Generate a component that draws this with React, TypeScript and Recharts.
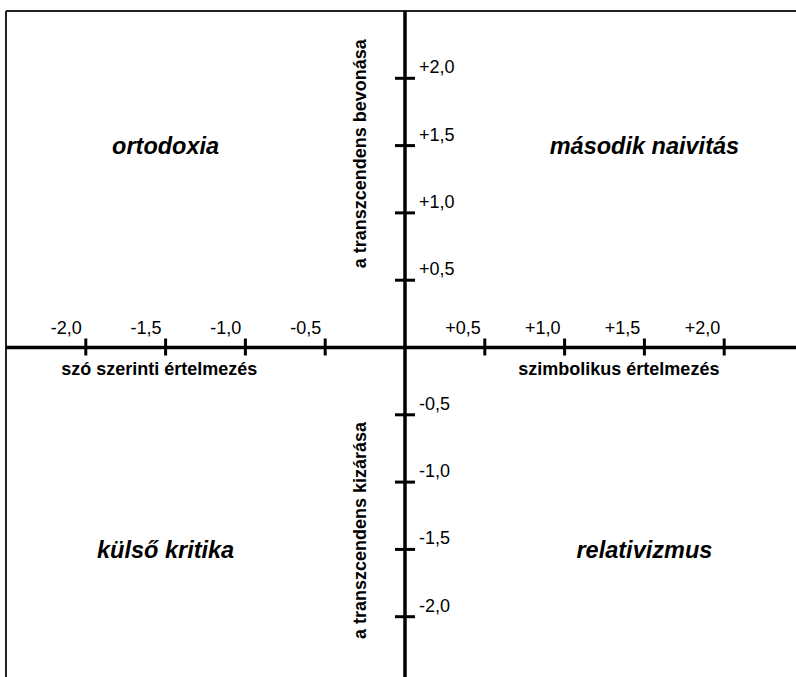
import {
  ScatterChart,
  Scatter,
  XAxis,
  YAxis,
  ReferenceLine,
} from 'recharts';

// tick values and their printed labels (Hungarian decimal comma)
const xTickValues = [-2, -1.5, -1, -0.5, 0.5, 1, 1.5, 2];
const xTickLabels = ['-2,0', '-1,5', '-1,0', '-0,5', '+0,5', '+1,0', '+1,5', '+2,0'];
const yTickValues = [2, 1.5, 1, 0.5, -0.5, -1, -1.5, -2];
const yTickLabels = ['+2,0', '+1,5', '+1,0', '+0,5', '-0,5', '-1,0', '-1,5', '-2,0'];

// quadrant names
const quadrantNames = ['ortodoxia', 'második naivitás', 'külső kritika', 'relativizmus'];
const quadrantX = [-1.5, 1.5, -1.5, 1.5];
const quadrantY = [1.5, 1.5, -1.5, -1.5];

// axis titles
const xTitles = ['szó szerinti értelmezés', 'szimbolikus értelmezés'];
const xTitleAt = [-1.54, 1.34];
const yTitles = ['a transzcendens bevonása', 'a transzcendens kizárása'];
const yTitleAt = [1.44, -1.36];

const FONT = '"Liberation Sans", Arial, sans-serif';

const xTickData = xTickValues.map((v, i) => ({ x: v, y: 0, label: xTickLabels[i] }));
const yTickData = yTickValues.map((v, i) => ({ x: 0, y: v, label: yTickLabels[i] }));
const quadrantData = quadrantNames.map((n, i) => ({ x: quadrantX[i], y: quadrantY[i], label: n }));
const xTitleData = xTitles.map((t, i) => ({ x: xTitleAt[i], y: 0, label: t }));
const yTitleData = yTitles.map((t, i) => ({ x: 0, y: yTitleAt[i], label: t }));

const XTick = ({ cx, cy, payload }: any) => (
  <g>
    <line x1={cx} x2={cx} y1={cy - 9} y2={cy + 8} stroke="#000" strokeWidth={3} />
    <text x={cx - 4} y={cy - 14} textAnchor="end" fontSize={18} fontFamily={FONT} fill="#000">
      {payload.label}
    </text>
  </g>
);

const YTick = ({ cx, cy, payload }: any) => (
  <g>
    <line x1={cx - 10} x2={cx + 10} y1={cy} y2={cy} stroke="#000" strokeWidth={3} />
    <text x={cx + 14} y={cy - 5} textAnchor="start" fontSize={18} fontFamily={FONT} fill="#000">
      {payload.label}
    </text>
  </g>
);

const QuadrantLabel = ({ cx, cy, payload }: any) => (
  <text
    x={cx}
    y={cy}
    dy="0.35em"
    textAnchor="middle"
    fontSize={23.5}
    fontWeight="bold"
    fontStyle="italic"
    fontFamily={FONT}
    fill="#000"
  >
    {payload.label}
  </text>
);

const XTitle = ({ cx, cy, payload }: any) => (
  <text x={cx} y={cy + 27} textAnchor="middle" fontSize={18} fontWeight="bold" fontFamily={FONT} fill="#000">
    {payload.label}
  </text>
);

const YTitle = ({ cx, cy, payload }: any) => {
  const px = cx - 39;
  return (
    <text
      x={px}
      y={cy}
      transform={`rotate(-90 ${px} ${cy})`}
      textAnchor="middle"
      fontSize={18}
      fontWeight="bold"
      fontFamily={FONT}
      fill="#000"
    >
      {payload.label}
    </text>
  );
};

export default function App() {
  return (
    <div
      style={{
        position: 'absolute',
        left: 0,
        top: 0,
        width: 796,
        height: 677,
        overflow: 'hidden',
        background: '#fff',
      }}
    >
      <ScatterChart width={804} height={684} margin={{ top: 11, right: 0, bottom: 0, left: 6 }}>
        <XAxis type="number" dataKey="x" domain={[-2.5, 2.5]} allowDataOverflow hide />
        <YAxis type="number" dataKey="y" domain={[-2.5, 2.5]} allowDataOverflow hide />
        {/* frame */}
        <ReferenceLine y={2.5} stroke="#222" strokeWidth={2} />
        <ReferenceLine x={-2.5} stroke="#222" strokeWidth={2} />
        {/* main axes */}
        <ReferenceLine y={0} stroke="#000" strokeWidth={3.5} />
        <ReferenceLine x={0} stroke="#000" strokeWidth={3.5} />
        <Scatter data={xTickData} shape={XTick} isAnimationActive={false} />
        <Scatter data={yTickData} shape={YTick} isAnimationActive={false} />
        <Scatter data={quadrantData} shape={QuadrantLabel} isAnimationActive={false} />
        <Scatter data={xTitleData} shape={XTitle} isAnimationActive={false} />
        <Scatter data={yTitleData} shape={YTitle} isAnimationActive={false} />
      </ScatterChart>
    </div>
  );
}
